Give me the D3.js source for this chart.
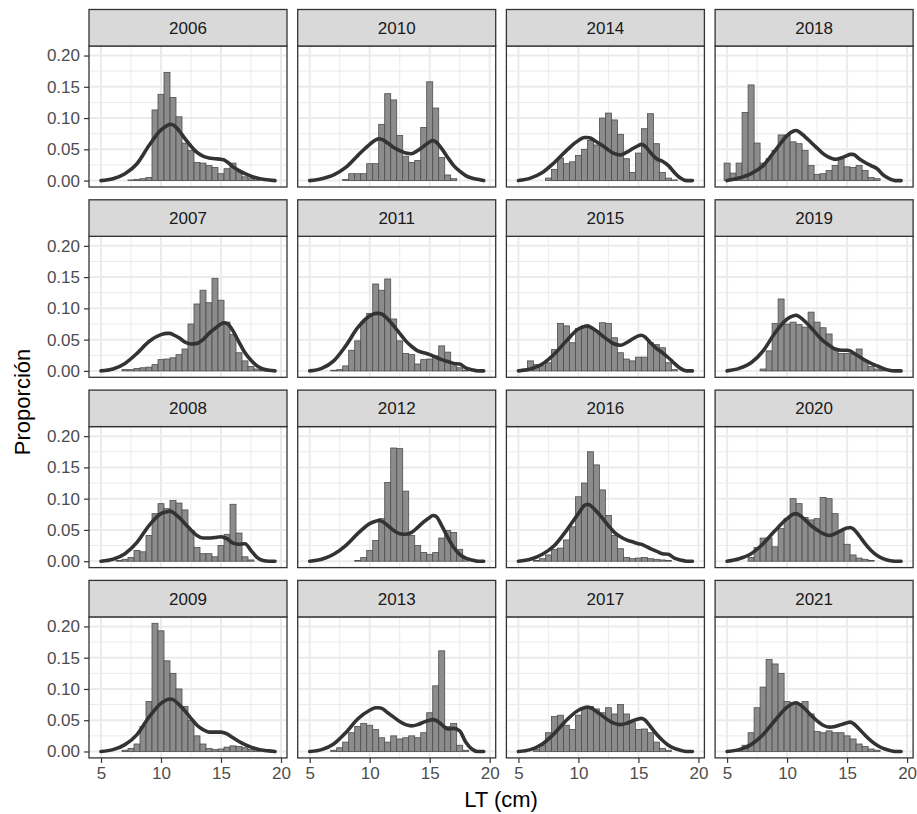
<!DOCTYPE html>
<html>
<head>
<meta charset="utf-8">
<script src="https://cdn.jsdelivr.net/npm/d3@7"></script>
<style>
  html, body { margin: 0; padding: 0; background: #ffffff; }
  svg { display: block; font-family: "Liberation Sans", Arial, sans-serif; }
</style>
</head>
<body>
<svg id="chart" width="917" height="814"></svg>
<script>
// Histogram bin centres (cm), bin width 0.5
const binCenters = [5.0, 5.5, 6.0, 6.5, 7.0, 7.5, 8.0, 8.5, 9.0, 9.5,
                    10.0, 10.5, 11.0, 11.5, 12.0, 12.5, 13.0, 13.5, 14.0, 14.5,
                    15.0, 15.5, 16.0, 16.5, 17.0, 17.5, 18.0, 18.5, 19.0, 19.5];
const binWidth = 0.5;

// Positions (cm) at which the density curves are given
const densityGrid = [5, 6, 7, 8, 9, 10, 10.5, 10.75, 11, 11.5, 12, 12.5, 13, 13.5,
                     14, 14.5, 15, 15.25, 15.5, 16, 16.5, 17, 17.5, 18, 18.5, 19, 19.5];

// Panels in facet order (filled column by column)
const years = [2006, 2007, 2008, 2009, 2010, 2011, 2012, 2013,
               2014, 2015, 2016, 2017, 2018, 2019, 2020, 2021];

const xTicks = [5, 10, 15, 20];
const yTicks = [0, 0.05, 0.10, 0.15, 0.20];

// Proportion per length bin
const hist2006 = [0,0,0,0,0,0.001,0.002,0.003,0.005,0.113,0.138,0.173,0.133,0.102,0.060,0.048,0.029,0.028,0.024,0.021,0.011,0.019,0.028,0.014,0.006,0.003,0.001,0,0,0];
const hist2007 = [0,0,0,0,0.002,0.002,0.004,0.005,0.006,0.010,0.018,0.019,0.021,0.026,0.035,0.075,0.107,0.129,0.109,0.148,0.113,0.078,0.058,0.029,0.016,0.007,0.003,0.001,0,0];
const hist2008 = [0,0,0,0.001,0.003,0.006,0.017,0.015,0.041,0.076,0.092,0.084,0.097,0.093,0.082,0.049,0.022,0.012,0.012,0.007,0.025,0.043,0.091,0.045,0.007,0.002,0,0,0,0];
const hist2009 = [0,0,0,0,0.002,0.005,0.012,0.040,0.080,0.205,0.193,0.145,0.125,0.100,0.072,0.050,0.025,0.012,0.005,0.003,0.004,0.007,0.009,0.008,0.006,0.003,0.001,0,0,0];
const hist2010 = [0,0,0,0,0,0,0.002,0.011,0.011,0.011,0.027,0.027,0.090,0.139,0.129,0.072,0.039,0.029,0.032,0.085,0.158,0.116,0.037,0.009,0.003,0,0,0,0,0];
const hist2011 = [0,0,0,0,0.001,0.002,0.008,0.033,0.048,0.078,0.092,0.139,0.129,0.147,0.083,0.048,0.028,0.026,0.011,0.018,0.019,0.024,0.040,0.030,0.008,0.005,0.001,0,0,0];
const hist2012 = [0,0,0,0,0,0,0,0,0.001,0.006,0.017,0.033,0.068,0.126,0.181,0.180,0.112,0.041,0.025,0.014,0.011,0.014,0.037,0.049,0.046,0.019,0.005,0,0,0];
const hist2013 = [0,0,0,0,0.002,0.006,0.015,0.030,0.040,0.045,0.042,0.035,0.022,0.015,0.025,0.020,0.022,0.025,0.022,0.030,0.062,0.105,0.161,0.040,0.045,0.010,0.002,0,0,0];
const hist2014 = [0,0,0,0,0,0.004,0.018,0.036,0.027,0.030,0.040,0.050,0.064,0.057,0.100,0.108,0.097,0.074,0.035,0.013,0.044,0.083,0.107,0.059,0.013,0.004,0.001,0,0,0];
const hist2015 = [0,0.003,0.016,0.010,0.008,0.013,0.034,0.076,0.072,0.045,0.068,0.072,0.070,0.064,0.077,0.076,0.053,0.029,0.019,0.016,0.022,0.022,0.045,0.042,0.037,0.013,0.002,0,0,0];
const hist2016 = [0,0,0,0.001,0.004,0.010,0.019,0.021,0.034,0.055,0.103,0.125,0.175,0.154,0.114,0.073,0.041,0.020,0.006,0.004,0.005,0.006,0.004,0.003,0.002,0.001,0,0,0,0];
const hist2017 = [0,0,0,0.003,0.010,0.030,0.056,0.058,0.042,0.035,0.058,0.070,0.072,0.068,0.062,0.070,0.060,0.075,0.060,0.046,0.035,0.036,0.030,0.015,0.005,0.002,0,0,0,0];
const hist2018 = [0.028,0.012,0.028,0.109,0.153,0.060,0.028,0.035,0.048,0.073,0.073,0.062,0.059,0.048,0.024,0.010,0.011,0.016,0.024,0.035,0.022,0.021,0.024,0.016,0.005,0.003,0,0,0,0];
const hist2019 = [0,0,0,0,0,0,0.003,0.032,0.076,0.115,0.075,0.078,0.074,0.070,0.094,0.078,0.069,0.059,0.036,0.028,0.028,0.027,0.035,0.016,0.007,0.003,0.001,0,0,0];
const hist2020 = [0,0,0,0,0.006,0.022,0.037,0.037,0.023,0.052,0.068,0.100,0.092,0.070,0.066,0.068,0.102,0.100,0.076,0.049,0.027,0.010,0.005,0.003,0.001,0,0,0,0,0];
const hist2021 = [0,0,0.003,0.010,0.030,0.070,0.103,0.147,0.140,0.125,0.080,0.078,0.077,0.080,0.060,0.032,0.030,0.033,0.030,0.030,0.025,0.020,0.012,0.008,0.004,0.002,0,0,0,0];

// Density curves on densityGrid
const dens2006 = [0,0.003,0.011,0.027,0.056,0.081,0.088,0.090,0.089,0.080,0.067,0.055,0.045,0.039,0.036,0.035,0.034,0.033,0.030,0.022,0.016,0.011,0.007,0.004,0.002,0.001,0];
const dens2007 = [0,0.003,0.012,0.028,0.047,0.058,0.060,0.060,0.058,0.053,0.046,0.043,0.044,0.050,0.060,0.068,0.075,0.077,0.076,0.064,0.046,0.029,0.017,0.008,0.003,0.001,0];
const dens2008 = [0,0.003,0.012,0.030,0.057,0.076,0.079,0.080,0.078,0.070,0.060,0.050,0.041,0.037,0.037,0.038,0.039,0.038,0.036,0.029,0.027,0.028,0.017,0.006,0.001,0,0];
const dens2009 = [0,0.003,0.011,0.027,0.055,0.077,0.083,0.084,0.083,0.075,0.065,0.053,0.042,0.035,0.031,0.031,0.031,0.030,0.028,0.022,0.016,0.011,0.007,0.004,0.002,0.001,0];
const dens2010 = [0,0.003,0.009,0.021,0.040,0.058,0.065,0.067,0.066,0.060,0.053,0.048,0.044,0.043,0.048,0.055,0.062,0.064,0.062,0.051,0.037,0.024,0.015,0.008,0.004,0.002,0];
const dens2011 = [0,0.004,0.016,0.040,0.069,0.088,0.092,0.092,0.091,0.083,0.072,0.060,0.048,0.039,0.032,0.029,0.026,0.024,0.022,0.018,0.015,0.012,0.011,0.005,0.002,0,0];
const dens2012 = [0,0.003,0.011,0.025,0.044,0.060,0.064,0.065,0.064,0.057,0.049,0.044,0.043,0.046,0.054,0.063,0.070,0.073,0.072,0.057,0.038,0.022,0.011,0.005,0.002,0,0];
const dens2013 = [0,0.003,0.012,0.030,0.052,0.066,0.070,0.070,0.069,0.062,0.055,0.048,0.043,0.041,0.043,0.047,0.050,0.051,0.050,0.043,0.036,0.037,0.033,0.015,0.004,0,0];
const dens2014 = [0,0.004,0.013,0.029,0.048,0.064,0.069,0.069,0.068,0.062,0.056,0.049,0.043,0.041,0.045,0.051,0.056,0.058,0.056,0.045,0.035,0.031,0.024,0.013,0.004,0,0];
const dens2015 = [0,0.003,0.011,0.027,0.048,0.067,0.071,0.072,0.070,0.064,0.056,0.049,0.043,0.041,0.045,0.051,0.056,0.057,0.055,0.045,0.036,0.029,0.021,0.012,0.004,0,0];
const dens2016 = [0,0.003,0.011,0.025,0.049,0.076,0.089,0.091,0.089,0.080,0.069,0.057,0.046,0.039,0.034,0.031,0.028,0.027,0.025,0.020,0.016,0.012,0.011,0.005,0.002,0,0];
const dens2017 = [0,0.003,0.012,0.029,0.050,0.066,0.070,0.071,0.070,0.064,0.057,0.050,0.045,0.043,0.045,0.049,0.052,0.053,0.051,0.040,0.028,0.018,0.010,0.005,0.002,0,0];
const dens2018 = [0,0.004,0.011,0.024,0.048,0.072,0.079,0.080,0.078,0.070,0.061,0.052,0.043,0.037,0.034,0.036,0.040,0.042,0.042,0.035,0.029,0.024,0.019,0.009,0.003,0,0];
const dens2019 = [0,0.004,0.013,0.032,0.061,0.083,0.088,0.089,0.087,0.079,0.069,0.058,0.048,0.041,0.035,0.033,0.033,0.032,0.029,0.023,0.017,0.012,0.008,0.004,0.001,0,0];
const dens2020 = [0,0.004,0.012,0.028,0.049,0.068,0.075,0.076,0.074,0.066,0.057,0.050,0.044,0.041,0.044,0.049,0.053,0.054,0.052,0.041,0.028,0.017,0.009,0.004,0.001,0,0];
const dens2021 = [0,0.003,0.011,0.027,0.050,0.071,0.077,0.078,0.076,0.068,0.058,0.049,0.042,0.039,0.040,0.043,0.046,0.047,0.045,0.036,0.026,0.017,0.010,0.005,0.002,0,0];

const histByYear = {2006: hist2006, 2007: hist2007, 2008: hist2008, 2009: hist2009,
                    2010: hist2010, 2011: hist2011, 2012: hist2012, 2013: hist2013,
                    2014: hist2014, 2015: hist2015, 2016: hist2016, 2017: hist2017,
                    2018: hist2018, 2019: hist2019, 2020: hist2020, 2021: hist2021};
const densByYear = {2006: dens2006, 2007: dens2007, 2008: dens2008, 2009: dens2009,
                    2010: dens2010, 2011: dens2011, 2012: dens2012, 2013: dens2013,
                    2014: dens2014, 2015: dens2015, 2016: dens2016, 2017: dens2017,
                    2018: dens2018, 2019: dens2019, 2020: dens2020, 2021: dens2021};

// ---- layout ----
const nRow = 4, nCol = 4;
const left0 = 89, panelW = 198, colStep = 208.7;
const top0 = 9.5, rowStep = 190.3, stripH = 36.5, panelH = 141;
const tickFont = 17, stripFont = 17, titleFont = 22;

const svg = d3.select("#chart");

// x: histogram range expanded by 5% each side
const xLo = d3.min(binCenters) - binWidth / 2, xHi = d3.max(binCenters) + binWidth / 2;
const xPad = 0.05 * (xHi - xLo);
const x = d3.scaleLinear().domain([xLo - xPad, xHi + xPad]).range([0, panelW]);

// y: shared across panels, 0 to data max, expanded by 5%
const yMax = d3.max(years, yr => Math.max(d3.max(histByYear[yr]), d3.max(densByYear[yr])));
const yPad = 0.05 * yMax;
const y = d3.scaleLinear().domain([-yPad, yMax + yPad]).range([panelH, 0]);

const xMinor = [7.5, 12.5, 17.5];
const yMinor = [0.025, 0.075, 0.125, 0.175];

const line = d3.line()
  .x(d => x(d[0]))
  .y(d => y(d[1]))
  .curve(d3.curveMonotoneX);

years.forEach((yr, i) => {
  const col = Math.floor(i / nRow), row = i % nRow;
  const px = left0 + col * colStep;
  const stripTop = top0 + row * rowStep;
  const py = stripTop + stripH;
  const g = svg.append("g").attr("transform", `translate(${px},${py})`);

  g.append("rect").attr("width", panelW).attr("height", panelH).attr("fill", "#ffffff");

  // minor grid
  g.selectAll(".vminor").data(xMinor).enter().append("line")
    .attr("x1", d => x(d)).attr("x2", d => x(d)).attr("y1", 0).attr("y2", panelH)
    .attr("stroke", "#EBEBEB").attr("stroke-width", 1);
  g.selectAll(".hminor").data(yMinor).enter().append("line")
    .attr("x1", 0).attr("x2", panelW).attr("y1", d => y(d)).attr("y2", d => y(d))
    .attr("stroke", "#EBEBEB").attr("stroke-width", 1);
  // major grid
  g.selectAll(".vmajor").data(xTicks).enter().append("line")
    .attr("x1", d => x(d)).attr("x2", d => x(d)).attr("y1", 0).attr("y2", panelH)
    .attr("stroke", "#EBEBEB").attr("stroke-width", 2);
  g.selectAll(".hmajor").data(yTicks).enter().append("line")
    .attr("x1", 0).attr("x2", panelW).attr("y1", d => y(d)).attr("y2", d => y(d))
    .attr("stroke", "#EBEBEB").attr("stroke-width", 2);

  // histogram bars
  const bars = binCenters.map((c, k) => ({c, v: histByYear[yr][k]})).filter(d => d.v > 0);
  g.selectAll(".bar").data(bars).enter().append("rect")
    .attr("x", d => x(d.c - binWidth / 2))
    .attr("width", d => x(d.c + binWidth / 2) - x(d.c - binWidth / 2))
    .attr("y", d => y(d.v))
    .attr("height", d => y(0) - y(d.v))
    .attr("fill", "#8C8C8C")
    .attr("stroke", "#4D4D4D")
    .attr("stroke-width", 0.8);

  // density curve
  const pts = densityGrid.map((gx, k) => [gx, densByYear[yr][k]]);
  g.append("path").attr("d", line(pts))
    .attr("fill", "none").attr("stroke", "#333333").attr("stroke-width", 3.6)
    .attr("stroke-linejoin", "round").attr("stroke-linecap", "round");

  // panel border
  g.append("rect").attr("width", panelW).attr("height", panelH)
    .attr("fill", "none").attr("stroke", "#333333").attr("stroke-width", 1.3);

  // strip
  const s = svg.append("g").attr("transform", `translate(${px},${stripTop})`);
  s.append("rect").attr("width", panelW).attr("height", stripH)
    .attr("fill", "#D9D9D9").attr("stroke", "#333333").attr("stroke-width", 1.3);
  s.append("text").attr("x", panelW / 2).attr("y", stripH / 2)
    .attr("dy", "0.36em").attr("text-anchor", "middle")
    .attr("font-size", stripFont).attr("fill", "#1A1A1A").text(yr);

  // axes on the outer panels
  if (col === 0) {
    const ax = g.append("g").call(d3.axisLeft(y).tickValues(yTicks)
      .tickFormat(d3.format(".2f")).tickSize(5).tickPadding(4));
    ax.select(".domain").remove();
    ax.selectAll("line").attr("stroke", "#333333").attr("stroke-width", 1.2);
    ax.selectAll("text").attr("font-size", tickFont).attr("fill", "#4D4D4D")
      .attr("font-family", "Liberation Sans, Arial, sans-serif");
  }
  if (row === nRow - 1) {
    const ax = g.append("g").attr("transform", `translate(0,${panelH})`)
      .call(d3.axisBottom(x).tickValues(xTicks).tickSize(5).tickPadding(4));
    ax.select(".domain").remove();
    ax.selectAll("line").attr("stroke", "#333333").attr("stroke-width", 1.2);
    ax.selectAll("text").attr("font-size", tickFont).attr("fill", "#4D4D4D")
      .attr("font-family", "Liberation Sans, Arial, sans-serif");
  }
});

// axis titles, centred on the panel area (strips of the top row excluded)
const panelsTop = top0 + stripH;
const panelsBottom = top0 + (nRow - 1) * rowStep + stripH + panelH;
const panelsLeft = left0, panelsRight = left0 + (nCol - 1) * colStep + panelW;

svg.append("text")
  .attr("x", (panelsLeft + panelsRight) / 2).attr("y", 807)
  .attr("text-anchor", "middle").attr("font-size", titleFont).attr("fill", "#000000")
  .text("LT (cm)");

svg.append("text")
  .attr("transform", `translate(30,${(panelsTop + panelsBottom) / 2}) rotate(-90)`)
  .attr("text-anchor", "middle").attr("font-size", titleFont).attr("fill", "#000000")
  .text("Proporción");
</script>
</body>
</html>
